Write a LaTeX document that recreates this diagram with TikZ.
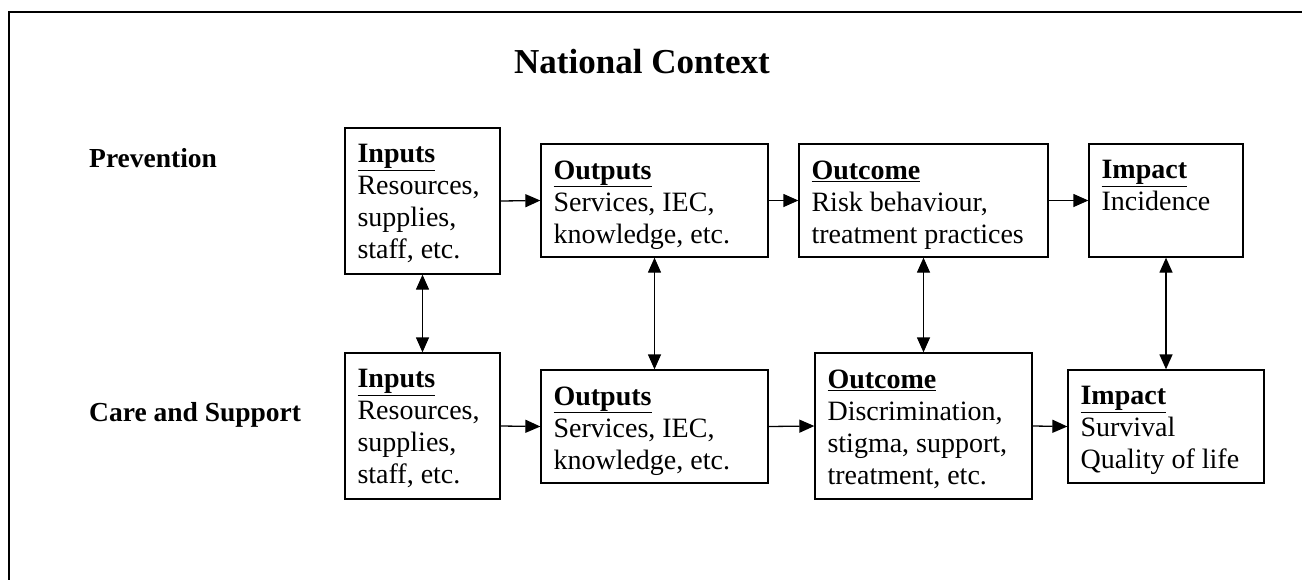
\documentclass[tikz,border=0pt]{standalone}
\usepackage{fontspec}
\setmainfont{Liberation Serif}
\usetikzlibrary{arrows.meta}
\begin{document}
\begin{tikzpicture}[x=1pt,y=-1pt,
  box/.style={draw, line width=1.3pt, inner sep=0pt},
  txt/.style={anchor=north west, inner sep=0pt, align=left, font=\fontsize{28}{32}\selectfont},
  lbl/.style={anchor=west, inner sep=0pt, font=\bfseries\fontsize{27.5}{31}\selectfont},
  arr/.style={line width=1.3pt, -{Triangle[length=15pt,width=13pt]}},
  darr/.style={line width=1.3pt, {Triangle[length=15pt,width=13pt]}-{Triangle[length=15pt,width=13pt]}}]
\useasboundingbox (0,0) rectangle (1302,579);
% outer frame (open on right and bottom)
\draw[line width=2.2pt] (1303,12) -- (9,12) -- (9,580);

\node[font=\bfseries\fontsize{35}{40}\selectfont] (title) at (642,62) {National Context};
\node[lbl] (prev) at (89,158) {Prevention};
\node[lbl] (care) at (89,415) {Care and Support};

% prevention row
\node[box, minimum width=155pt, minimum height=146pt] (in1) at (422.5,201) {};
\node[box, minimum width=227pt, minimum height=113pt] (out1) at (654.5,200.5) {};
\node[box, minimum width=249pt, minimum height=113pt] (oc1) at (923.5,200.5) {};
\node[box, minimum width=154pt, minimum height=113pt] (im1) at (1166,200.5) {};
% care row
\node[box, minimum width=155pt, minimum height=146pt] (in2) at (422.5,426) {};
\node[box, minimum width=227pt, minimum height=113pt] (out2) at (654.5,426.5) {};
\node[box, minimum width=217pt, minimum height=146pt] (oc2) at (923.5,426) {};
\node[box, minimum width=196pt, minimum height=113pt] (im2) at (1166,426.5) {};

% texts
\node[txt] (in1t) at ([xshift=13pt,yshift=-17pt]in1.north west) {\textbf{\underline{Inputs}}\\Resources,\\supplies,\\staff, etc.};
\node[txt] (out1t) at ([xshift=13pt,yshift=-17pt]out1.north west) {\textbf{\underline{Outputs}}\\Services, IEC,\\knowledge, etc.};
\node[txt] (oc1t) at ([xshift=13pt,yshift=-17pt]oc1.north west) {\textbf{\underline{Outcome}}\\Risk behaviour,\\treatment practices};
\node[txt] (im1t) at ([xshift=13pt,yshift=-17pt]im1.north west) {\textbf{\underline{Impact}}\\Incidence};
\node[txt] (in2t) at ([xshift=13pt,yshift=-17pt]in2.north west) {\textbf{\underline{Inputs}}\\Resources,\\supplies,\\staff, etc.};
\node[txt] (out2t) at ([xshift=13pt,yshift=-17pt]out2.north west) {\textbf{\underline{Outputs}}\\Services, IEC,\\knowledge, etc.};
\node[txt] (oc2t) at ([xshift=13pt,yshift=-17pt]oc2.north west) {\textbf{\underline{Outcome}}\\Discrimination,\\stigma, support,\\treatment, etc.};
\node[txt] (im2t) at ([xshift=13pt,yshift=-17pt]im2.north west) {\textbf{\underline{Impact}}\\Survival\\Quality of life};

% horizontal arrows
\draw[arr] (in1.east) -- (out1.west);
\draw[arr] (out1.east) -- (oc1.west);
\draw[arr] (oc1.east) -- (im1.west);
\draw[arr] (in2.east) -- (out2.west);
\draw[arr] (out2.east) -- (oc2.west);
\draw[arr] (oc2.east) -- (im2.west);
% vertical double arrows
\draw[darr] (in1.south) -- (in2.north);
\draw[darr] (out1.south) -- (out2.north);
\draw[darr] (oc1.south) -- (oc2.north);
\draw[darr] (im1.south) -- (im2.north);
\end{tikzpicture}
\end{document}
